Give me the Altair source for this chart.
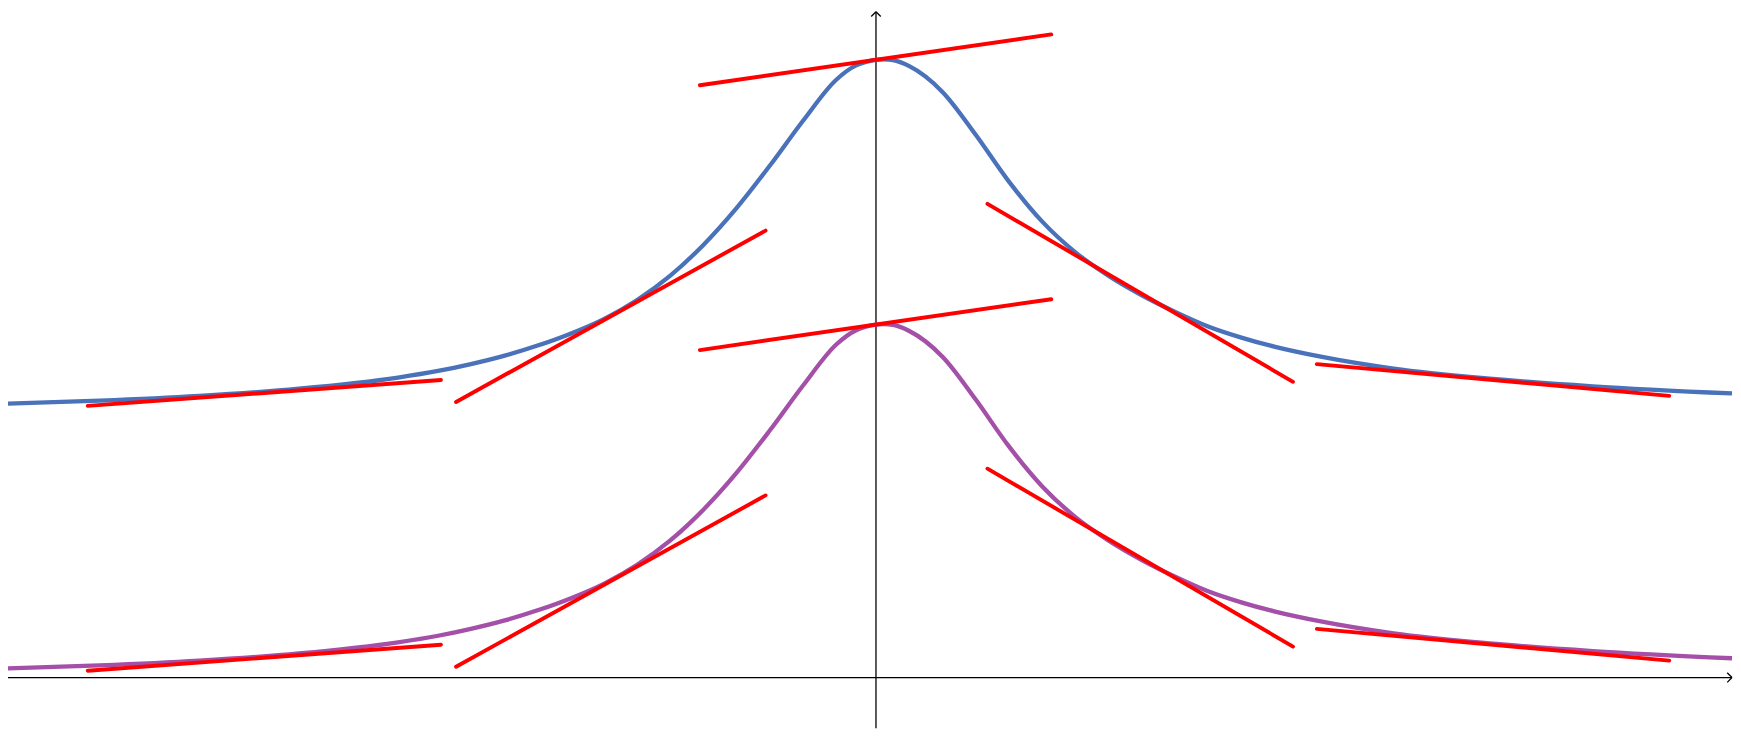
import altair as alt
import pandas as pd

# ---- data (x and y in the same units) ----
curve_x = [-3.308, -2.932, -2.556, -2.180, -1.805, -1.654, -1.530, -1.402, -1.278,
           -1.154, -1.026, -0.902, -0.778, -0.650, -0.526, -0.402, -0.274, -0.150,
           -0.075, -0.038, 0.000, 0.030, 0.064, 0.124, 0.252, 0.376, 0.500, 0.628,
           0.752, 0.876, 1.004, 1.128, 1.252, 1.380, 1.504, 1.680, 1.955, 2.331,
           2.707, 3.233]
purple_y = [0.034, 0.046, 0.064, 0.091, 0.133, 0.158, 0.184, 0.216, 0.254,
            0.299, 0.355, 0.426, 0.517, 0.636, 0.774, 0.932, 1.105, 1.258,
            1.312, 1.325, 1.333, 1.335, 1.332, 1.310, 1.211, 1.051, 0.876, 0.722,
            0.607, 0.519, 0.444, 0.382, 0.327, 0.284, 0.250, 0.212, 0.167, 0.128,
            0.100, 0.073]
blue_y = [1.034, 1.046, 1.064, 1.091, 1.133, 1.158, 1.184, 1.216, 1.254,
          1.299, 1.355, 1.426, 1.517, 1.636, 1.774, 1.932, 2.105, 2.258,
          2.312, 2.325, 2.333, 2.335, 2.332, 2.310, 2.211, 2.051, 1.876, 1.722,
          1.607, 1.519, 1.444, 1.382, 1.327, 1.284, 1.250, 1.212, 1.167, 1.128,
          1.100, 1.073]

# tangent segments (start / end)
tan_x0 = [-2.977, -1.586, -0.665, 0.421, 1.665]
tan_x1 = [-1.643, -0.417, 0.662, 1.575, 2.996]
blue_tan_y0 = [1.026, 1.041, 2.237, 1.789, 1.184]
blue_tan_y1 = [1.124, 1.688, 2.429, 1.117, 1.064]
purple_tan_y0 = [0.026, 0.041, 1.237, 0.789, 0.184]
purple_tan_y1 = [0.124, 0.688, 1.429, 0.117, 0.064]

# view extents
x_min, x_max = -3.2782, 3.2368
y_min, y_max = -0.1917, 2.5226
x_tip, y_tip = 3.233, 2.515
arm = 0.018

curves = pd.DataFrame(
    {"x": curve_x * 2,
     "y": blue_y + purple_y,
     "series": ["blue"] * len(curve_x) + ["purple"] * len(curve_x)}
)
tangents = pd.DataFrame(
    {"x": tan_x0 * 2, "x2": tan_x1 * 2,
     "y": blue_tan_y0 + purple_tan_y0,
     "y2": blue_tan_y1 + purple_tan_y1}
)
axes = pd.DataFrame(
    {"x":  [x_min, x_tip, x_tip, 0.0, 0.0, 0.0],
     "x2": [x_tip, x_tip - arm, x_tip - arm, 0.0, -arm, arm],
     "y":  [0.0, 0.0, 0.0, y_min, y_tip, y_tip],
     "y2": [0.0, arm, -arm, y_tip, y_tip - arm, y_tip - arm]}
)

xs = alt.Scale(domain=[x_min, x_max], nice=False, zero=False)
ys = alt.Scale(domain=[y_min, y_max], nice=False, zero=False)

axis_layer = alt.Chart(axes).mark_rule(color="black", strokeWidth=1.3).encode(
    x=alt.X("x:Q", scale=xs, axis=None),
    x2="x2:Q",
    y=alt.Y("y:Q", scale=ys, axis=None),
    y2="y2:Q",
)

curve_layer = alt.Chart(curves).mark_line(
    strokeWidth=4.3, clip=True, interpolate="monotone"
).encode(
    x=alt.X("x:Q", scale=xs, axis=None),
    y=alt.Y("y:Q", scale=ys, axis=None),
    color=alt.Color("series:N",
                    scale=alt.Scale(domain=["blue", "purple"],
                                    range=["#4A72BA", "#A44FA8"]),
                    legend=None),
    detail="series:N",
)

tangent_layer = alt.Chart(tangents).mark_rule(
    color="#FF0000", strokeWidth=3.9, strokeCap="round"
).encode(
    x=alt.X("x:Q", scale=xs, axis=None),
    x2="x2:Q",
    y=alt.Y("y:Q", scale=ys, axis=None),
    y2="y2:Q",
)

chart = (
    alt.layer(axis_layer, curve_layer, tangent_layer)
    .properties(width=1733, height=722, padding=0,
                autosize=alt.AutoSizeParams(type="none"))
    .configure_view(stroke=None)
)

chart.save("out.html", embed_options={"renderer": "svg", "actions": False})
